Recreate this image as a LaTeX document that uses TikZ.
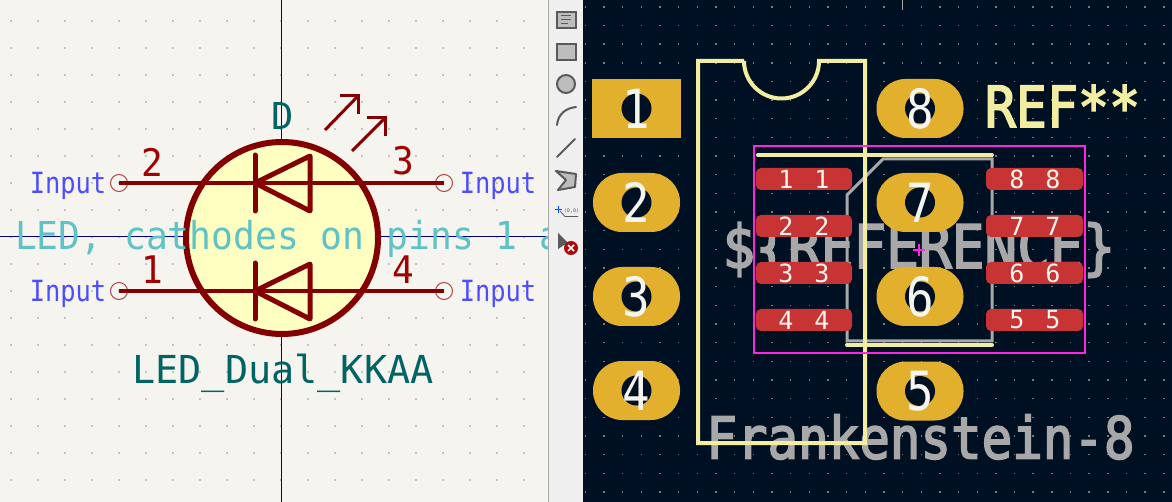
\documentclass[tikz,border=0pt]{standalone}
\usepackage{fontspec}
\newfontfamily\monoreg{DejaVu Sans Mono}
\newfontfamily\monobold[FakeBold=3]{DejaVu Sans Mono}
\definecolor{schbg}{HTML}{F5F4EF}
\definecolor{schdot}{HTML}{C4C4BE}
\definecolor{body}{HTML}{840000}
\definecolor{bodyfill}{HTML}{FFFFC2}
\definecolor{pinnum}{HTML}{A00000}
\definecolor{pinend}{HTML}{A84848}
\definecolor{teal}{HTML}{006464}
\definecolor{inputblue}{HTML}{4D4DFF}
\definecolor{desc}{HTML}{5FC2C5}
\definecolor{axisnavy}{HTML}{000080}
\definecolor{barbg}{HTML}{EFEFEF}
\definecolor{icon}{HTML}{5A5A5A}
\definecolor{iconfill}{HTML}{BDBDBD}
\definecolor{pcbbg}{HTML}{001023}
\definecolor{pcbdot}{HTML}{7C7C76}
\definecolor{gold}{HTML}{E3B02E}
\definecolor{smd}{HTML}{C83434}
\definecolor{silk}{HTML}{F2EDA1}
\definecolor{fab}{HTML}{A8A8A8}
\definecolor{court}{HTML}{FF26E2}
\definecolor{padnum}{HTML}{F5F5F0}
\tikzset{
  x=1pt,y=-1pt,
  txt/.style={inner sep=0pt,outer sep=0pt,anchor=center},
  schnum/.style={txt,text=pinnum,font=\monoreg\fontsize{38}{40}\selectfont,xscale=.95,transform shape},
  inputlbl/.style={txt,text=inputblue,font=\monoreg\fontsize{25.4}{28}\selectfont,yscale=1.15,transform shape},
  pinterm/.style={circle,draw=pinend,line width=1pt,minimum size=17pt,inner sep=0pt},
  bodyline/.style={draw=body,line width=5pt,line cap=round,line join=round},
  pinline/.style={draw=body,line width=3.5pt},
  ledarrow/.style={draw=body,line width=3pt},
  tht/.style={fill=gold,rounded corners=29pt,minimum width=87pt,minimum height=59pt,inner sep=0pt},
  thtsq/.style={fill=gold,minimum width=89pt,minimum height=59pt,inner sep=0pt},
  hole/.style={fill=pcbbg,circle,minimum size=30pt,inner sep=0pt},
  thtnum/.style={txt,text=padnum,font=\monoreg\fontsize{54}{56}\selectfont,xscale=.85,transform shape},
  smdpad/.style={fill=smd,rounded corners=5pt,minimum width=96pt,minimum height=22pt,inner sep=0pt},
  smdnum/.style={txt,text=padnum,font=\monoreg\fontsize{25}{27}\selectfont},
  silkline/.style={draw=silk,line width=4pt,line cap=round,line join=miter},
  iconline/.style={draw=icon,line width=2pt},
}
\begin{document}
\begin{tikzpicture}
\useasboundingbox (0,0) rectangle (1172,502);
% ---------- schematic panel
\fill[schbg] (0,0) rectangle (549,502);
\begin{scope}
\clip (0,0) rectangle (548,502);
\foreach \xx in {11,38,...,548}{\foreach \yy in {21,48,...,502}{
  \fill[schdot] (\xx-.8,\yy-.8) rectangle (\xx+.8,\yy+.8);}}
\draw[axisnavy,line width=1pt] (281,0) -- (281,502);
\draw[axisnavy,line width=1pt] (0,237) -- (548,237);
\draw[fill=bodyfill,draw=body,line width=6pt] (282,238) circle[radius=96];
\node[pinterm] (p2) at (119,183) {};
\node[pinterm] (p3) at (444,183) {};
\node[pinterm] (p1) at (119,291) {};
\node[pinterm] (p4) at (444,291) {};
\draw[pinline] (p2.center) -- (p3.center);
\draw[pinline] (p1.center) -- (p4.center);
\foreach \yy in {183,291}{
  \draw[bodyline] (255,\yy-28) -- (255,\yy+28);
  \draw[bodyline] (255,\yy) -- (310,\yy-27) -- (310,\yy+28) -- cycle;
}
\draw[ledarrow] (325,130) -- (358,96);
\draw[ledarrow] (340,96) -- (358,96) -- (358,114);
\draw[ledarrow] (352,151) -- (385,118);
\draw[ledarrow] (367,118) -- (385,118) -- (385,136);
\node[txt,text=teal,font=\monoreg\fontsize{37}{40}\selectfont] (dref) at (283,116) {D};
\node[schnum] (n2) at (152,162) {2};
\node[schnum] (n3) at (403,161) {3};
\node[schnum] (n1) at (152,270) {1};
\node[schnum] (n4) at (403,270) {4};
\node[inputlbl] (i2) at (68,185.5) {Input};
\node[inputlbl] (i1) at (68,293.5) {Input};
\node[inputlbl] (i3) at (498,185.5) {Input};
\node[inputlbl] (i4) at (498,293.5) {Input};
\node[txt,text=teal,font=\monoreg\fontsize{38.5}{42}\selectfont] (val) at (283,373.5) {LED\_Dual\_KKAA};
\node[inner sep=0pt,outer sep=0pt,anchor=base west,text=desc,font=\monoreg\fontsize{36.3}{40}\selectfont,yscale=1.06,transform shape] (dsc) at (15,250) {LED, cathodes on pins 1 and 2};
\end{scope}
% ---------- toolbar
\fill[barbg] (549,0) rectangle (583,502);
\draw[fab,line width=1.5pt] (548.5,0) -- (548.5,502);
\draw[iconline,fill=iconfill] (557,12) rectangle (575.5,28);
\draw[icon,line width=1pt] (561,16) -- (571,16) (561,20) -- (571,20) (561,24) -- (568,24);
\draw[iconline,fill=iconfill] (557,44) rectangle (575.5,60);
\draw[iconline,fill=iconfill] (566,84) circle[radius=9];
\draw[iconline,line cap=round] (557,125) .. controls (558,114) and (566,108) .. (576,107);
\draw[iconline,line cap=round] (557,157) -- (575,139);
\draw[iconline,fill=iconfill,line join=round] (556,171) -- (576,174) -- (575,187) -- (558,190) -- (566,180) -- cycle;
\draw[blue!70!cyan,line width=1.2pt] (555,209.5) -- (562,209.5) (558.5,206) -- (558.5,213);
\draw[icon,line width=.8pt] (560,211) -- (565,216.5) -- (578,216.5);
\node[txt,text=icon,font=\monoreg\fontsize{5}{6}\selectfont] (origin) at (571.5,211) {(0,0)};
\fill[icon] (558,233) -- (570,245) -- (564,245) -- (558,249) -- cycle;
\fill[red!65!black!95!pink] (571,248) circle[radius=7];
\draw[white,line width=1.6pt] (568,245) -- (574,251) (574,245) -- (568,251);
% ---------- PCB panel
\fill[pcbbg] (583,0) rectangle (1172,502);
\foreach \i in {0,...,31}{\foreach \j in {0,...,26}{
  \pgfmathsetmacro\xx{604+18.66*\i-18.66}
  \pgfmathsetmacro\yy{492-18.66*\j}
  \fill[pcbdot] (\xx-.7,\yy-.7) rectangle (\xx+.7,\yy+.7);}}
\draw[fab,line width=1pt] (902,0) -- (902,10);
\node[txt,text=fab,font=\monobold\fontsize{54.4}{56}\selectfont,yscale=1.1,transform shape] (refval) at (919,250) {\$\{REFERENCE\}};
\node[txt,text=fab,font=\monobold\fontsize{50.8}{54}\selectfont,yscale=1.14,transform shape] (fpname) at (920.5,437) {Frankenstein-8};
\draw[fab,line width=3pt] (847,195) -- (883,159) -- (992,159) -- (992,341) -- (847,341) -- cycle;
\node[thtsq] (t1) at (636.5,108.5) {};
\node[tht] (t2) at (636.5,202.5) {};
\node[tht] (t3) at (636.5,296.5) {};
\node[tht] (t4) at (636.5,390.5) {};
\node[tht] (t8) at (920,108.5) {};
\node[tht] (t7) at (920,202.5) {};
\node[tht] (t6) at (920,296.5) {};
\node[tht] (t5) at (920,391) {};
\foreach \p/\l in {t1/1,t2/2,t3/3,t4/4,t8/8,t7/7,t6/6,t5/5}{
  \node[hole] (h\l) at (\p.center) {};
  \node[thtnum] (tn\l) at (\p.center) {\l};
}
\foreach \l/\yy in {1/179,2/226,3/273,4/320}{
  \node[smdpad] (sl\l) at (804,\yy) {};
  \node[smdnum] (sla\l) at (786,\yy) {\l};
  \node[smdnum] (slb\l) at (822,\yy) {\l};
}
\foreach \l/\yy in {8/179,7/226,6/273,5/320}{
  \node[smdpad,minimum width=97pt] (sr\l) at (1034.5,\yy) {};
  \node[smdnum] (sra\l) at (1017,\yy) {\l};
  \node[smdnum] (srb\l) at (1053,\yy) {\l};
}
\draw[silkline,line cap=butt] (744,61) -- (698,61) -- (698,443) -- (865,443) -- (865,61) -- (819,61) arc[start angle=0,end angle=180,radius=37.5];
\draw[silkline] (758,155) -- (992,155);
\draw[silkline] (847,345) -- (992,345);
\node[txt,text=silk,font=\monobold\fontsize{51.6}{54}\selectfont,yscale=1.1,transform shape] (refstar) at (1062.5,106) {REF**};
\draw[court,line width=2pt] (754,146) rectangle (1085,353);
\draw[court,line width=1.5pt] (913,250) -- (925,250) (919,244) -- (919,256);
\end{tikzpicture}
\end{document}
